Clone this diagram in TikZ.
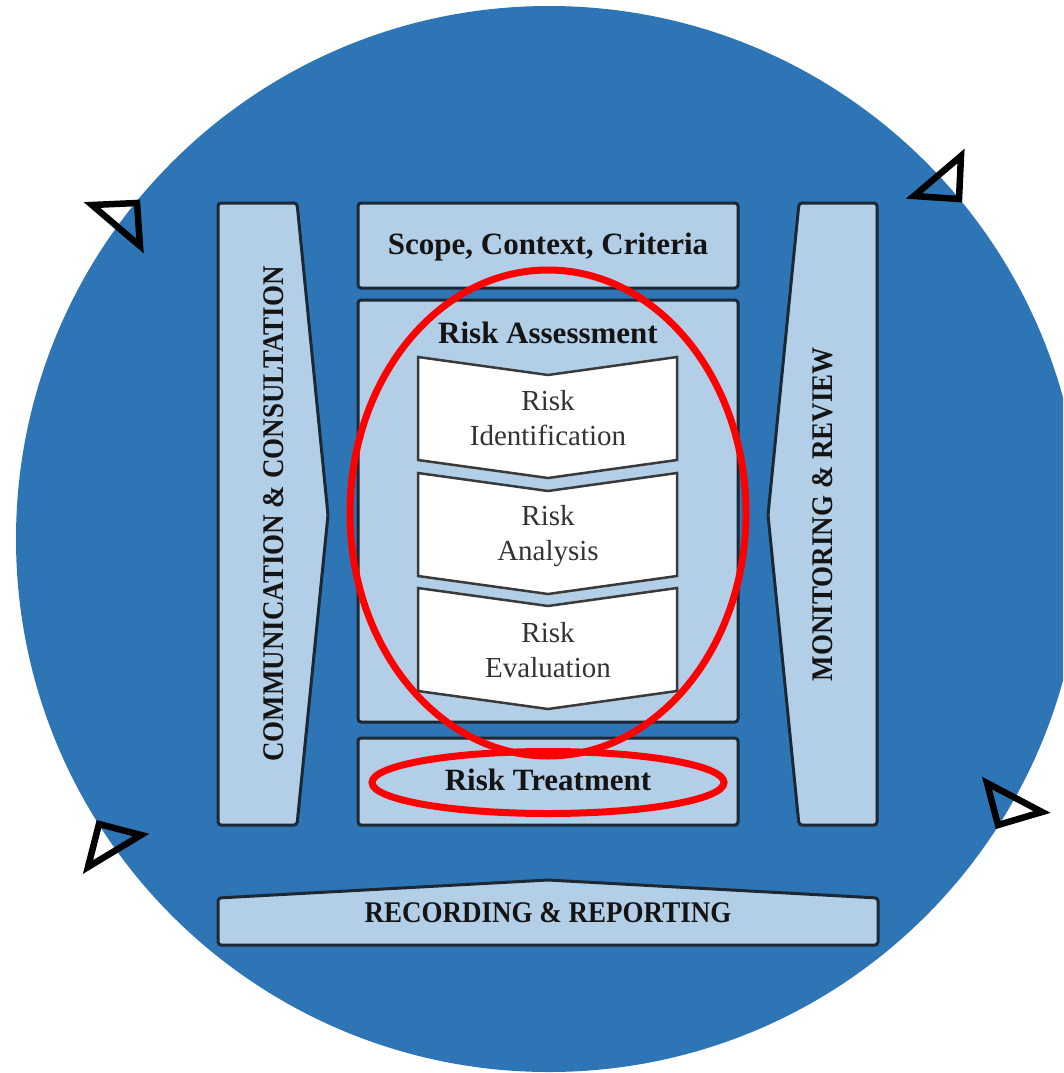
\documentclass[tikz,border=0pt]{standalone}
\usepackage{fontspec}
\setmainfont{Liberation Serif}
\definecolor{discblue}{HTML}{2E75B6}
\definecolor{panel}{HTML}{B3CFE7}
\definecolor{edge}{HTML}{1C2833}
\definecolor{chevedge}{HTML}{3A3A3A}
\definecolor{markred}{HTML}{FF0000}
\tikzset{
  panelbox/.style={draw=edge, line width=3pt, fill=panel, rounded corners=3pt},
  chevbox/.style={draw=chevedge, line width=2.5pt, fill=white, line join=miter},
  boldlabel/.style={font=\fontsize{31}{36}\selectfont\bfseries, text=black!92, anchor=base, inner sep=0pt},
  capslabel/.style={font=\fontsize{30}{36}\selectfont\bfseries, text=black!92, anchor=base, inner sep=0pt},
  steplabel/.style={font=\fontsize{29}{35}\selectfont, text=black!80, align=center, inner sep=0pt},
  flowtip/.style={draw=black, line width=6.5pt, line join=miter, miter limit=3},
  focusring/.style={draw=markred, line width=7pt},
}
% one white chevron of the assessment stack, top edge at #1
\newcommand\chevronat[2]{%
  \draw[chevbox] (418,#1) coordinate (#2-nw) -- (548,#1+18) -- (677,#1) -- (677,#1+103)
    -- (548,#1+121) -- (418,#1+103) -- cycle;}
\newcommand\capsfit[2]{\scalebox{#1}[1]{#2}}
\begin{document}
\begin{tikzpicture}[x=1pt,y=-1pt]
\useasboundingbox (0,0) rectangle (1063,1073);
\clip (0,0) rectangle (1063,1073);

% background disc
\fill[discblue] (549,539) circle[radius=533];

% flow arrowheads around the disc
\draw[flowtip] (92,205) coordinate (tipA) -- (137,203) -- (140,246) -- cycle;
\draw[flowtip] (961,156) coordinate (tipB) -- (914,196) -- (959,199) -- cycle;
\draw[flowtip] (99,824) coordinate (tipC) -- (141,835) -- (88,867) -- cycle;
\draw[flowtip] (987,783) coordinate (tipD) -- (1042,812) -- (998,825) -- cycle;

% side columns
\draw[panelbox] (218,203) coordinate (comm) -- (297,203) -- (328,515) -- (297,825) -- (218,825) -- cycle;
\draw[panelbox] (799,203) coordinate (mon) -- (877,203) -- (877,825) -- (799,825) -- (768,515) -- cycle;

% bottom band
\draw[panelbox] (218,898) coordinate (rec) -- (548,880) -- (878,898) -- (878,945) -- (218,945) -- cycle;

% central boxes
\node[panelbox, minimum width=380pt, minimum height=85pt, inner sep=0pt] (scope) at (548,245.5) {};
\node[panelbox, minimum width=380pt, minimum height=422pt, inner sep=0pt] (assess) at (548,511) {};
\node[panelbox, minimum width=380pt, minimum height=87pt, inner sep=0pt] (treat) at (548,781.5) {};

% assessment steps
\chevronat{357}{ident}
\chevronat{473}{anal}
\chevronat{588}{eval}

% labels
\node[boldlabel] (scopetext) at (548,254) {Scope, Context, Criteria};
\node[boldlabel] (assesstext) at (548,343) {Risk Assessment};
\node[boldlabel] (treattext) at (548,790) {Risk Treatment};
\node[steplabel] (identtext) at (548,418) {Risk\\Identification};
\node[steplabel] (analtext) at (548,536) {Risk\\Analysis};
\node[steplabel] (evaltext) at (548,650) {Risk\\Evaluation};
\node[capslabel] (rectext) at (548,922) {\capsfit{0.9}{RECORDING \& REPORTING}};
\node[capslabel, rotate=90] (commtext) at (283,514) {\capsfit{0.9}{COMMUNICATION \& CONSULTATION}};
\node[capslabel, rotate=90] (montext) at (832,514) {\capsfit{0.9}{MONITORING \& REVIEW}};

% highlight rings
\draw[focusring] (548,513) ellipse[x radius=198, y radius=243];
\draw[focusring] (548,782.5) ellipse[x radius=176, y radius=31];
\end{tikzpicture}
\end{document}
